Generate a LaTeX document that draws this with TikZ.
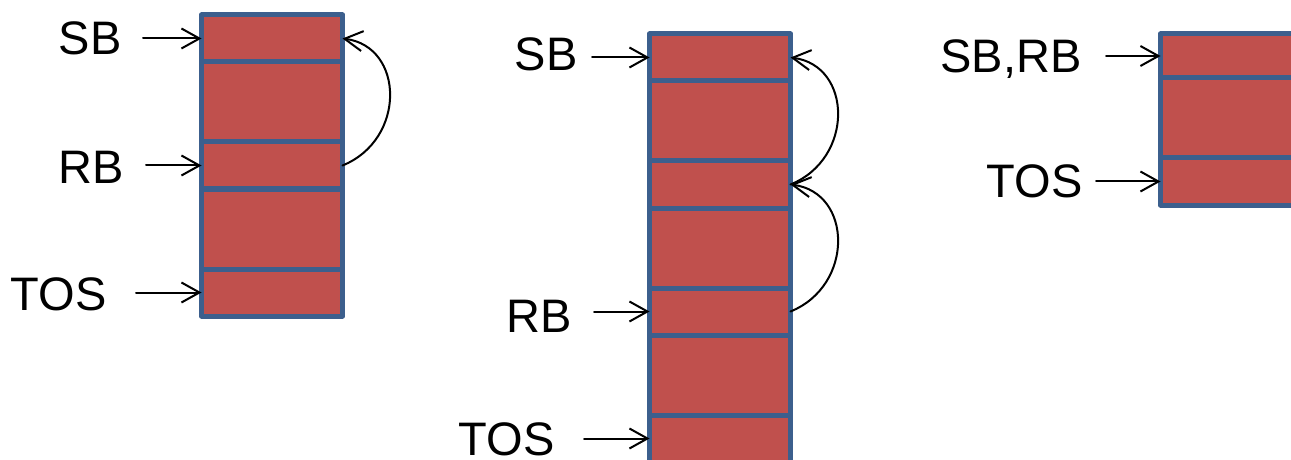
\documentclass[tikz,border=0pt]{standalone}
\usepackage{fontspec}
\setmainfont{Liberation Sans}
\usetikzlibrary{positioning,arrows.meta}
\definecolor{cellred}{HTML}{C0504D}
\definecolor{cellblue}{HTML}{3C5F8D}

\begin{document}
\begin{tikzpicture}
  [x=0.5pt, y=0.5pt,
  cell/.style ={rectangle, draw=cellblue, fill=cellred, line width=2.5pt, line join=round, outer sep=0pt, inner sep=0pt, minimum width=70.5pt},
  slot/.style ={cell, minimum height=23.5pt},
  gap/.style ={cell, minimum height=40pt},
  lbl/.style ={font=\fontsize{23.5}{28}\selectfont, inner sep=0pt, anchor=base east},
  ptr/.style ={draw, line width=1pt, line cap=round, -{Straight Barb[length=9pt,width=10pt]}},
  ]
  \clip (0,0) rectangle (1291,-460);

  % first stack
  \node[slot, anchor=north west] (s1a) at (201.5,-15) {};
  \node[gap, below=0pt of s1a] (s1b) {};
  \node[slot, below=0pt of s1b] (s1c) {};
  \node[gap, below=0pt of s1c] (s1d) {};
  \node[slot, below=0pt of s1d] (s1e) {};

  \node[lbl] (sb1) at (122,-55) {SB};
  \node[lbl] (rb1) at (124,-184) {RB};
  \node[lbl] (tos1) at (107,-310) {TOS};

  \draw[ptr, shorten <=10.5pt] (sb1.east |- s1a.west) -- (s1a.west);
  \draw[ptr, shorten <=11pt] (rb1.east |- s1c.west) -- (s1c.west);
  \draw[ptr, shorten <=14.5pt] (tos1.east |- s1e.west) -- (s1e.west);
  \draw[ptr] (s1c.east) .. controls +(64,26) and +(62,-8) .. (s1a.east);

  % second stack
  \node[slot, anchor=north west] (s2a) at (649.5,-34) {};
  \node[gap, below=0pt of s2a] (s2b) {};
  \node[slot, below=0pt of s2b] (s2c) {};
  \node[gap, below=0pt of s2c] (s2d) {};
  \node[slot, below=0pt of s2d] (s2e) {};
  \node[gap, below=0pt of s2e] (s2f) {};
  \node[slot, below=0pt of s2f] (s2g) {};

  \node[lbl] (sb2) at (578,-71) {SB};
  \node[lbl] (rb2) at (572,-332) {RB};
  \node[lbl] (tos2) at (555,-455) {TOS};

  \draw[ptr, shorten <=7pt] (sb2.east |- s2a.west) -- (s2a.west);
  \draw[ptr, shorten <=11pt] (rb2.east |- s2e.west) -- (s2e.west);
  \draw[ptr, shorten <=14.5pt] (tos2.east |- s2g.west) -- (s2g.west);
  \draw[ptr] (s2c.east) .. controls +(64,26) and +(62,-8) .. (s2a.east);
  \draw[ptr] (s2e.east) .. controls +(64,26) and +(62,-8) .. (s2c.east);

  % third stack
  \node[slot, anchor=north west, minimum height=22pt] (s3a) at (1160.5,-34) {};
  \node[gap, below=0pt of s3a] (s3b) {};
  \node[slot, below=0pt of s3b] (s3c) {};

  \node[lbl] (sbrb3) at (1082,-73) {SB,RB};
  \node[lbl] (tos3) at (1083,-198) {TOS};

  \draw[ptr, shorten <=12pt] (sbrb3.east |- s3a.west) -- (s3a.west);
  \draw[ptr, shorten <=6.5pt] (tos3.east |- s3c.west) -- (s3c.west);
\end{tikzpicture}
\end{document}
